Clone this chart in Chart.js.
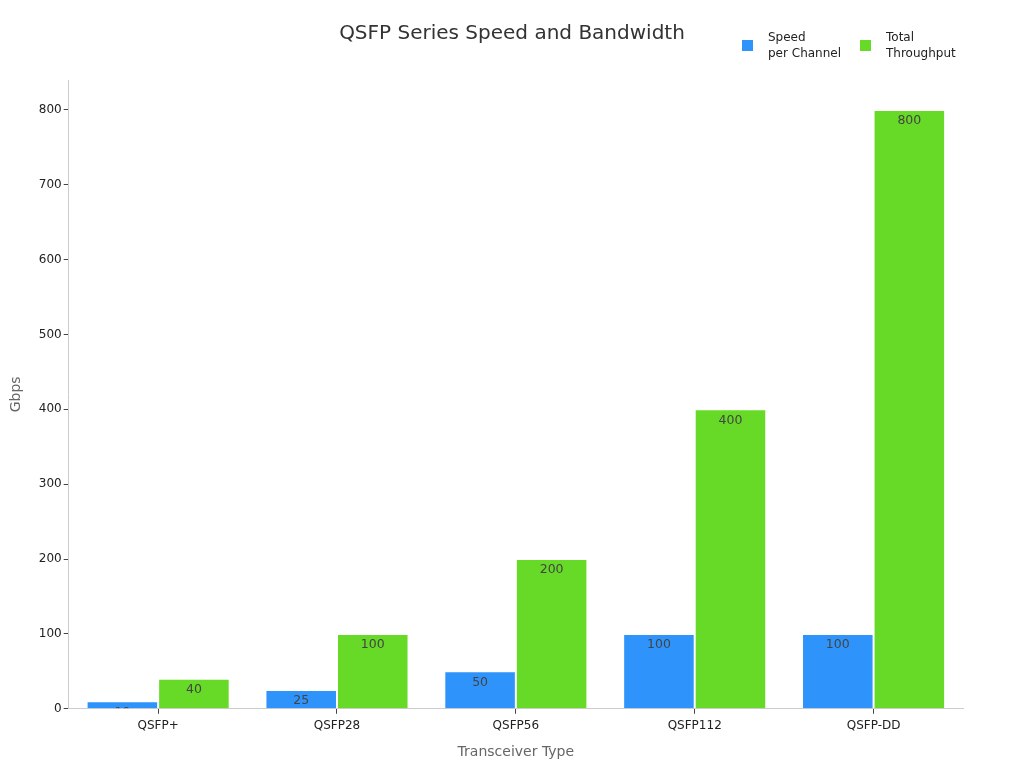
<!DOCTYPE html>
<html>
<head>
<meta charset="utf-8">
<script src="https://cdn.jsdelivr.net/npm/chart.js@4"></script>
<style>
  html, body { margin: 0; padding: 0; background: #fff; }
  #wrap { position: relative; width: 1024px; height: 768px; font-family: "DejaVu Sans", sans-serif; }
  #title { position: absolute; top: 20px; left: 0; width: 1024px; text-align: center; font-size: 20px; color: #333; }
  #legend { position: absolute; top: 29px; left: 742px; display: flex; font-size: 12px; color: #222; line-height: 16px; }
  .item { display: flex; align-items: center; margin-right: 19px; }
  .box { width: 11px; height: 11px; margin-right: 15px; }
</style>
</head>
<body>
<div id="wrap">
  <canvas id="chart" width="1024" height="768"></canvas>
  <div id="title">QSFP Series Speed and Bandwidth</div>
  <div id="legend"></div>
</div>
<script>
const categories = ['QSFP+', 'QSFP28', 'QSFP56', 'QSFP112', 'QSFP-DD'];
const speedPerChannel = [10, 25, 50, 100, 100];
const totalThroughput = [40, 100, 200, 400, 800];
const seriesNames = [['Speed', 'per Channel'], ['Total', 'Throughput']];
const seriesColors = ['#2E93FA', '#66DA26'];

// legend in html, two-line labels
const legendEl = document.getElementById('legend');
seriesNames.forEach((name, i) => {
  const item = document.createElement('div');
  item.className = 'item';
  item.innerHTML = '<div class="box" style="background:' + seriesColors[i] + '"></div><div>' + name.join('<br>') + '</div>';
  legendEl.appendChild(item);
});

// value labels inside the top of each bar, clipped to the bar
const barLabels = {
  id: 'barLabels',
  afterDatasetsDraw(chart) {
    const ctx = chart.ctx;
    chart.data.datasets.forEach((ds, di) => {
      chart.getDatasetMeta(di).data.forEach((bar, i) => {
        const left = bar.x - bar.width / 2;
        ctx.save();
        ctx.beginPath();
        ctx.rect(left, bar.y, bar.width, bar.base - bar.y);
        ctx.clip();
        ctx.fillStyle = '#444';
        ctx.font = '12.5px "DejaVu Sans"';
        ctx.textAlign = 'center';
        ctx.textBaseline = 'middle';
        ctx.fillText(ds.data[i], bar.x, bar.y + 11);
        ctx.restore();
      });
    });
  }
};

new Chart(document.getElementById('chart'), {
  type: 'bar',
  data: {
    labels: categories,
    datasets: [
      { label: seriesNames[0].join(' '), data: speedPerChannel, backgroundColor: seriesColors[0], borderColor: 'rgba(255,255,255,0.6)', borderWidth: 1 },
      { label: seriesNames[1].join(' '), data: totalThroughput, backgroundColor: seriesColors[1], borderColor: 'rgba(255,255,255,0.6)', borderWidth: 1 }
    ]
  },
  options: {
    responsive: false,
    animation: false,
    layout: { padding: { left: 8, right: 61, top: 80, bottom: 3 } },
    datasets: { bar: { categoryPercentage: 0.8, barPercentage: 1.0 } },
    plugins: {
      legend: { display: false },
      tooltip: { enabled: false },
      title: { display: false }
    },
    scales: {
      x: {
        grid: { display: true, drawOnChartArea: false, drawTicks: true, tickLength: 5, offset: false, color: '#444' },
        border: { display: true, color: '#ccc' },
        ticks: { color: '#222', font: { family: 'DejaVu Sans', size: 12 }, padding: 5 },
        title: { display: true, text: 'Transceiver Type', color: '#666', font: { family: 'DejaVu Sans', size: 14 }, padding: { top: 6 } }
      },
      y: {
        min: 0,
        max: 840,
        afterBuildTicks(scale) {
          scale.ticks = scale.ticks.filter(t => t.value % 100 === 0);
        },
        grid: { display: true, drawOnChartArea: false, drawTicks: true, tickLength: 5, color: '#444' },
        border: { display: true, color: '#ccc' },
        ticks: { stepSize: 100, color: '#222', font: { family: 'DejaVu Sans', size: 12 }, padding: 2 },
        title: { display: true, text: 'Gbps', color: '#666', font: { family: 'DejaVu Sans', size: 14 }, padding: { top: 0, bottom: 12 } }
      }
    }
  },
  plugins: [barLabels]
});
</script>
</body>
</html>
